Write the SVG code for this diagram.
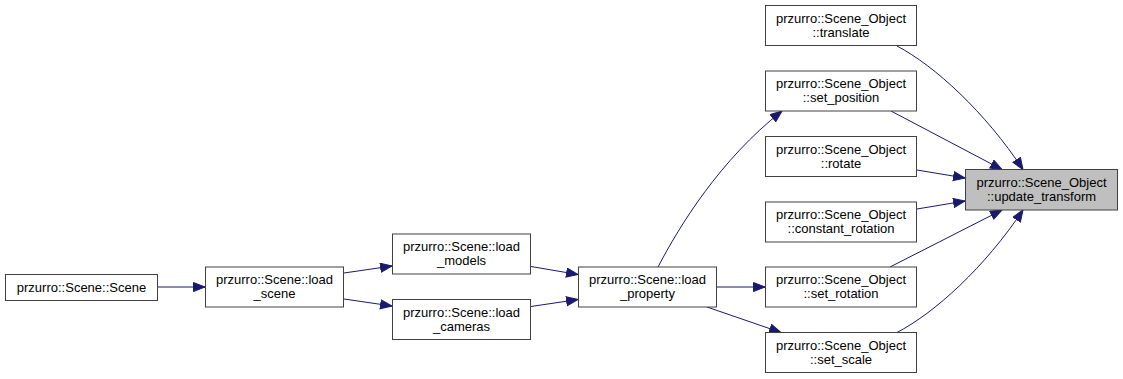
<svg xmlns="http://www.w3.org/2000/svg" width="1123" height="379" viewBox="0 0 1123 379">
  <style>
    .box { fill: #ffffff; stroke: #404040; stroke-width: 1; }
    .cur { fill: #bfbfbf; stroke: #404040; stroke-width: 1; }
    .lbl { font-family: "Liberation Sans", Arial, sans-serif; font-size: 13px; fill: #000000; text-anchor: middle; }
    .edge { fill: none; stroke: #191970; stroke-width: 1; marker-end: url(#head); }
  </style>
  <defs>
    <marker id="head" markerUnits="userSpaceOnUse" markerWidth="13" markerHeight="11" refX="12" refY="5" orient="auto">
      <path d="M0.5,0.5 L12,5 L0.5,9.5 z" fill="#191970" stroke="#191970" stroke-width="1"/>
    </marker>
  </defs>
  <rect width="1123" height="379" fill="#ffffff"/>

  <g id="connectors">
    <path class="edge" d="M158,287 L205,287"/>
    <path class="edge" d="M344,273 L392,266"/>
    <path class="edge" d="M344,299 L392,306"/>
    <path class="edge" d="M531,266.5 L578,274.5"/>
    <path class="edge" d="M531,306.5 L578,299.5"/>
    <path class="edge" d="M658,267 C680,225 720,160 782,111"/>
    <path class="edge" d="M717,287 L765,287"/>
    <path class="edge" d="M707,307 L781,332.5"/>
    <path class="edge" d="M897,46 C935,66 985,112 1023,169.5"/>
    <path class="edge" d="M891,111 L1002,169.5"/>
    <path class="edge" d="M917,170 L965,178"/>
    <path class="edge" d="M917,209 L965,201"/>
    <path class="edge" d="M890,267 L1002,210"/>
    <path class="edge" d="M896,333 C935,313 985,267 1023,210"/>
  </g>

  <g id="node-scene">
    <rect class="box" x="5.5" y="274.5" width="152" height="26"/>
    <text class="lbl" x="81.5" y="292">przurro::Scene::Scene</text>
  </g>
  <g id="node-load-scene">
    <rect class="box" x="205.5" y="267" width="138" height="40"/>
    <text class="lbl" x="274.5" y="284">przurro::Scene::load</text>
    <text class="lbl" x="274.5" y="298">_scene</text>
  </g>
  <g id="node-load-models">
    <rect class="box" x="392.5" y="234" width="138" height="40"/>
    <text class="lbl" x="461.5" y="251">przurro::Scene::load</text>
    <text class="lbl" x="461.5" y="265">_models</text>
  </g>
  <g id="node-load-cameras">
    <rect class="box" x="392.5" y="299.5" width="138" height="40"/>
    <text class="lbl" x="461.5" y="316.5">przurro::Scene::load</text>
    <text class="lbl" x="461.5" y="330.5">_cameras</text>
  </g>
  <g id="node-load-property">
    <rect class="box" x="578.5" y="267" width="138" height="40"/>
    <text class="lbl" x="647.5" y="284">przurro::Scene::load</text>
    <text class="lbl" x="647.5" y="298">_property</text>
  </g>
  <g id="node-translate">
    <rect class="box" x="765.5" y="5.5" width="151" height="40"/>
    <text class="lbl" x="841" y="22.5">przurro::Scene_Object</text>
    <text class="lbl" x="841" y="36.5">::translate</text>
  </g>
  <g id="node-set-position">
    <rect class="box" x="765.5" y="71" width="151" height="40"/>
    <text class="lbl" x="841" y="88">przurro::Scene_Object</text>
    <text class="lbl" x="841" y="102">::set_position</text>
  </g>
  <g id="node-rotate">
    <rect class="box" x="765.5" y="136.5" width="151" height="40"/>
    <text class="lbl" x="841" y="153.5">przurro::Scene_Object</text>
    <text class="lbl" x="841" y="167.5">::rotate</text>
  </g>
  <g id="node-constant-rotation">
    <rect class="box" x="765.5" y="202" width="151" height="40"/>
    <text class="lbl" x="841" y="219">przurro::Scene_Object</text>
    <text class="lbl" x="841" y="233">::constant_rotation</text>
  </g>
  <g id="node-set-rotation">
    <rect class="box" x="765.5" y="267" width="151" height="40"/>
    <text class="lbl" x="841" y="284">przurro::Scene_Object</text>
    <text class="lbl" x="841" y="298">::set_rotation</text>
  </g>
  <g id="node-set-scale">
    <rect class="box" x="765.5" y="332.5" width="151" height="40"/>
    <text class="lbl" x="841" y="349.5">przurro::Scene_Object</text>
    <text class="lbl" x="841" y="363.5">::set_scale</text>
  </g>
  <g id="node-update-transform">
    <rect class="cur" x="965.5" y="169.5" width="152" height="40.5"/>
    <text class="lbl" x="1041.5" y="186.5">przurro::Scene_Object</text>
    <text class="lbl" x="1041.5" y="200.5">::update_transform</text>
  </g>
</svg>
